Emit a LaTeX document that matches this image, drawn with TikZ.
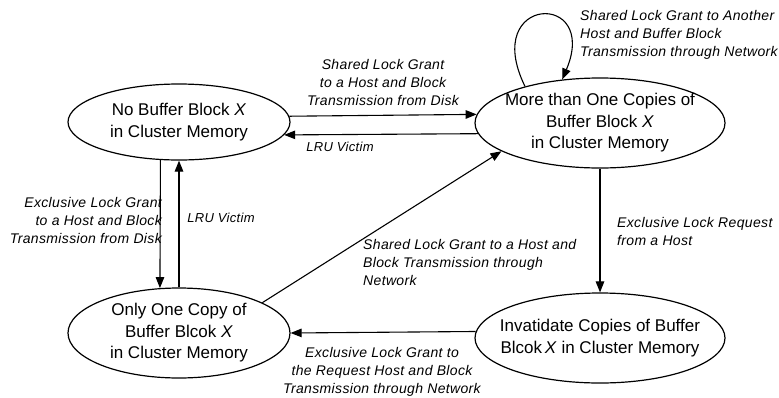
\documentclass[tikz,border=0pt]{standalone}
\usepackage{fontspec}
\setmainfont{Liberation Sans}
\newfontfamily\lblfont[LetterSpace=2.5]{Liberation Sans}
\usetikzlibrary{shapes.geometric,arrows.meta}
\begin{document}
\begin{tikzpicture}[x=1pt,y=-1pt,
  state/.style={draw,ellipse,line width=1.2pt,inner xsep=-30pt,inner ysep=-4pt,align=center,
    font=\fontsize{17}{21.5}\selectfont},
  arr/.style={line width=1.1pt,-{Triangle[length=11pt,width=8.5pt]}},
  lbl/.style={font=\lblfont\fontsize{14}{18}\selectfont\itshape,inner sep=0pt},
  lru/.style={font=\lblfont\fontsize{13}{16}\selectfont\itshape,inner sep=0pt},
]
\useasboundingbox (0,0) rectangle (779,397);
\fill[white] (0,0) rectangle (779,397);

% states
\node[state,minimum width=222pt,minimum height=76pt] (nob) at (179,122)
  {No Buffer Block \textit{X}\\in Cluster Memory};
\node[state,minimum width=250pt,minimum height=90pt] (more) at (600,123)
  {More than One Copies of\\Buffer Block \textit{X}\\in Cluster Memory};
\node[state,minimum width=222pt,minimum height=90pt] (one) at (179,333)
  {Only One Copy of\\Buffer Blcok \textit{X}\\in Cluster Memory};
\node[state,minimum width=250pt,minimum height=90pt] (inv) at (600,338)
  {Invatidate Copies of Buffer\\Blcok\,\textit{X} in Cluster Memory};

% connectors
\draw[arr] (nob.3) -- (more.176.9);
\draw[arr] (more.185.7) -- (nob.-7.1);
\draw[arr] (nob.-116.9) -- (one.113.2);
\draw[arr] (one.north) -- (nob.south);
\draw[arr] (one.20.3) -- (more.196.2);
\draw[arr] (more.south) -- (inv.north);
\draw[arr] (inv.177.7) -- (one.east);
\draw[arr] (more.154.4) .. controls (480,-5) and (600,-10) .. (more.131.5);

% labels
\node[lbl,align=center] (l1) at (383,82)
  {Shared Lock Grant\\to a Host and Block\\Transmission from Disk};
\node[lru] (l2) at (340,147) {LRU Victim};
\node[lbl,align=right,anchor=east] (l3) at (162,220)
  {Exclusive Lock Grant\\to a Host and Block\\Transmission from Disk};
\node[lru] (l4) at (221,218) {LRU Victim};
\node[lbl,align=left,anchor=west] (l5) at (363,262)
  {Shared Lock Grant to a Host and\\Block Transmission through\\Network};
\node[lbl,align=left,anchor=west] (l6) at (617,231)
  {Exclusive Lock Request\\from a Host};
\node[lbl,align=center] (l7) at (382,372)
  {Exclusive Lock Grant to\\the Request Host and Block\\Transmission through Network};
\node[lbl,align=left,anchor=west] (l8) at (580,35)
  {Shared Lock Grant to Another\\Host and Buffer Block\\Transmission through Network};
\end{tikzpicture}
\end{document}
